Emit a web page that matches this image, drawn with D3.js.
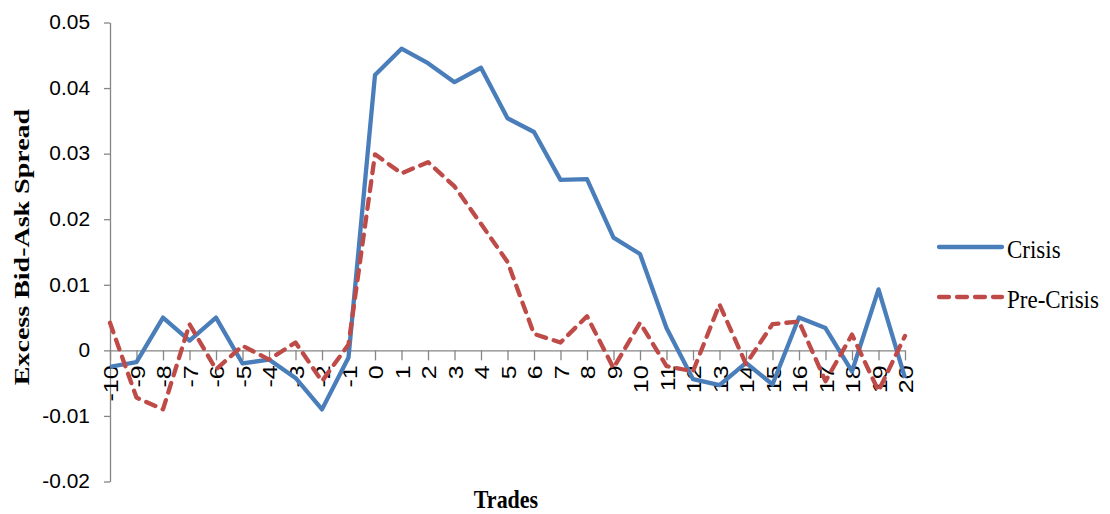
<!DOCTYPE html>
<html>
<head>
<meta charset="utf-8">
<script src="https://cdn.jsdelivr.net/npm/d3@7"></script>
<style>
  html, body { margin: 0; padding: 0; background: #fff; }
  svg { display: block; }
</style>
</head>
<body>
<svg id="chart" width="1110" height="514"></svg>
<script>
// ---- data ----
const categories = ["-10","-9","-8","-7","-6","-5","-4","-3","-2","-1","0","1","2","3","4","5","6","7","8","9","10","11","12","13","14","15","16","17","18","19","20"];
const crisis = [-0.0025,-0.0018,0.0050,0.0015,0.0050,-0.0020,-0.0014,-0.0042,-0.0090,-0.0011,
                0.0420,0.0460,0.0438,0.0409,0.0431,0.0354,0.0333,0.0260,0.0261,0.0172,0.0147,
                0.0034,-0.0044,-0.0053,-0.0019,-0.0052,0.0050,0.0034,-0.0032,0.0093,-0.0042];
const preCrisis = [0.0042,-0.0072,-0.0090,0.0040,-0.0029,0.0007,-0.0014,0.0012,-0.0047,0.0009,
                0.0299,0.0270,0.0287,0.0250,0.0193,0.0135,0.0025,0.0012,0.0052,-0.0027,0.0042,
                -0.0024,-0.0032,0.0070,-0.0021,0.0040,0.0044,-0.0047,0.0024,-0.0062,0.0022];
const yTicks = [-0.02,-0.01,0,0.01,0.02,0.03,0.04,0.05];
const yTickLabels = ["-0.02","-0.01","0","0.01","0.02","0.03","0.04","0.05"];
const seriesNames = ["Crisis","Pre-Crisis"];
const seriesColors = ["#4A7EBB","#BE4B48"];
const yTitle = "Excess Bid-Ask Spread";
const xTitle = "Trades";

// ---- chart ----
const svg = d3.select("#chart");
const x = d3.scalePoint().domain(categories).range([110, 905]);
const y = d3.scaleLinear().domain([-0.02, 0.05]).range([481.5, 22.5]);
const axisColor = "#868686";

// y axis
const gy = svg.append("g").attr("transform", "translate(110,0)")
  .call(d3.axisLeft(y).tickValues(yTicks).tickSize(6).tickSizeOuter(0).tickFormat(""));
gy.selectAll("path,line").attr("stroke", axisColor).attr("stroke-width", 1.3);

svg.append("g").selectAll("text").data(yTicks).join("text")
  .attr("transform", d => `translate(90,${y(d)}) scale(1.1,1.05)`)
  .attr("text-anchor", "end")
  .attr("dominant-baseline", "central")
  .attr("font-family", "'Liberation Sans', Arial, sans-serif")
  .attr("font-size", 19)
  .attr("fill", "#000")
  .text((d, i) => yTickLabels[i]);

// x axis at y = 0
const gx = svg.append("g").attr("transform", `translate(0,${y(0)})`)
  .call(d3.axisBottom(x).tickSize(10).tickSizeOuter(0).tickFormat(""));
gx.selectAll("path,line").attr("stroke", axisColor).attr("stroke-width", 1.3);

svg.append("g").selectAll("text").data(categories).join("text")
  .attr("transform", d => `translate(${x(d) + 1},${y(0) + 15}) rotate(-90) scale(1.25,1.02)`)
  .attr("text-anchor", "end")
  .attr("dominant-baseline", "central")
  .attr("font-family", "'Liberation Sans', Arial, sans-serif")
  .attr("font-size", 20)
  .attr("fill", "#000")
  .text(d => d);

// lines
const line = d3.line().x((d, i) => x(categories[i])).y(d => y(d));
svg.append("path").datum(crisis)
  .attr("d", line).attr("fill", "none")
  .attr("stroke", seriesColors[0]).attr("stroke-width", 4.3)
  .attr("stroke-linejoin", "round");
svg.append("path").datum(preCrisis)
  .attr("d", line).attr("fill", "none")
  .attr("stroke", seriesColors[1]).attr("stroke-width", 4.3)
  .attr("stroke-dasharray", "10,8").attr("stroke-linecap", "round")
  .attr("stroke-linejoin", "round");

// axis titles
svg.append("text")
  .attr("transform", "translate(29,247) rotate(-90) scale(1.4,1.05)")
  .attr("text-anchor", "middle")
  .attr("font-family", "'Liberation Serif', 'Times New Roman', serif")
  .attr("font-weight", "bold")
  .attr("font-size", 20)
  .text(yTitle);

svg.append("text")
  .attr("transform", "translate(506,508) scale(1,1.15)")
  .attr("text-anchor", "middle")
  .attr("font-family", "'Liberation Serif', 'Times New Roman', serif")
  .attr("font-weight", "bold")
  .attr("font-size", 22)
  .text(xTitle);

// legend
const legendY = [247, 297];
const lg = svg.append("g");
seriesNames.forEach((name, i) => {
  lg.append("line")
    .attr("x1", 939).attr("x2", 1002)
    .attr("y1", legendY[i]).attr("y2", legendY[i])
    .attr("stroke", seriesColors[i]).attr("stroke-width", 4.3)
    .attr("stroke-linecap", "round")
    .attr("stroke-dasharray", i === 1 ? "10,8" : null);
  lg.append("text")
    .attr("transform", `translate(1007,${legendY[i] + 11}) scale(1,1.1)`)
    .attr("font-family", "'Liberation Serif', 'Times New Roman', serif")
    .attr("font-size", 23)
    .text(name);
});
</script>
</body>
</html>
